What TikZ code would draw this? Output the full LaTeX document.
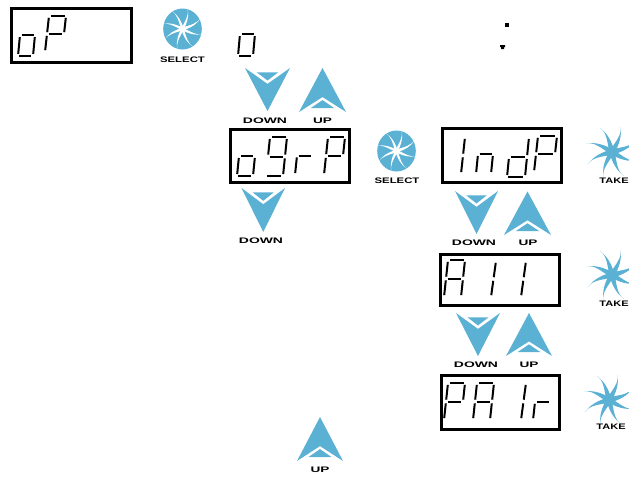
\documentclass[tikz,border=0pt]{standalone}
\usepackage{graphicx}
\usepackage{fontspec}
\setmainfont{Liberation Sans}
\definecolor{btn}{HTML}{5BB1D4}
\tikzset{
  dispbox/.style={draw=black,line width=3pt,fill=white,inner sep=0pt,rectangle},
  lab/.style={inner sep=0pt,font=\fontsize{8}{8}\selectfont\bfseries,text=black},
  seg/.style={draw=black,line width=2pt,line cap=butt},
  arrowfill/.style={fill=btn,draw=none}
}
\newcommand\sga{\draw[seg] (.12,1)--(.92,1);}
\newcommand\sgb{\draw[seg] (1,.95)--(1,.55);}
\newcommand\sgc{\draw[seg] (1,.45)--(1,.05);}
\newcommand\sgd{\draw[seg] (.08,0)--(.88,0);}
\newcommand\sge{\draw[seg] (0,.05)--(0,.45);}
\newcommand\sgf{\draw[seg] (0,.55)--(0,.95);}
\newcommand\sgg{\draw[seg] (.1,.5)--(.9,.5);}
% x, bottom y, width, height, slant, segments
\newcommand\sevenseg[6]{\begin{scope}[shift={(#1,#2)},x={(#3pt,0pt)},y={(#5pt,#4pt)}]
  \foreach \q in {#6}{\csname sg\q\endcsname}\end{scope}}
% name, left x, top y, width, height
\newcommand\dnarrow[5]{\begin{scope}[shift={(#2,#3)},x={(#4pt,0pt)},y={(0pt,-#5pt)}]
  \fill[arrowfill] (0,0)--(.5,.37)--(1,0)--(.5,1)--cycle;
  \fill[arrowfill] (.26,.1)--(.74,.1)--(.5,.29)--cycle;
  \node[inner sep=0pt,minimum size=0pt] (#1) at (.5,.5) {};\end{scope}}
\newcommand\uparrowbtn[5]{\begin{scope}[shift={(#2,#3)},x={(#4pt,0pt)},y={(0pt,-#5pt)}]
  \fill[arrowfill] (.5,0)--(1,1)--(.5,.66)--(0,1)--cycle;
  \fill[arrowfill] (.25,.91)--(.75,.91)--(.5,.73)--cycle;
  \node[inner sep=0pt,minimum size=0pt] (#1) at (.5,.5) {};\end{scope}}
\newcommand\blade[4]{\fill[#4,rotate=#1] (0,#3) .. controls (.4*#2,.6*#3) and (.75*#2,-.04*#2) .. (#2,-.3*#2) .. controls (.8*#2,-.06*#2) and (.4*#2,-#3-.4) .. (0,-#3) -- cycle;}
% name, cx, cy
\newcommand\takebtn[3]{\begin{scope}[shift={(#2,#3)}]
  \foreach \a in {10,55,...,370}{\blade{\a}{25.5}{2.6}{btn}}
  \fill[btn] (0,0) circle (3.4);
  \node[inner sep=0pt,minimum size=0pt] (#1) at (0,0) {};\end{scope}}
\newcommand\selbtn[3]{\begin{scope}[shift={(#2,#3)}]
  \fill[btn] (0,0) circle[x radius=19.3,y radius=20.5];
  \foreach \a in {15,60,...,375}{\blade{\a}{20.5}{1.3}{white}}
  \fill[white] (0,0) circle (1.8);
  \node[inner sep=0pt,minimum size=0pt] (#1) at (0,0) {};\end{scope}}
\begin{document}
\begin{tikzpicture}[x=1pt,y=-1pt]
\useasboundingbox (0,0) rectangle (629,479);
\fill[white] (0,0) rectangle (629,479);
% display boxes
\node[dispbox,minimum width=120pt,minimum height=54pt] (d1) at (71.5,35.5) {};
\node[dispbox,minimum width=119pt,minimum height=53pt] (d2) at (290,156) {};
\node[dispbox,minimum width=119pt,minimum height=54pt] (d3) at (502,155.5) {};
\node[dispbox,minimum width=119pt,minimum height=51pt] (d4) at (500,280) {};
\node[dispbox,minimum width=118pt,minimum height=54pt] (d5) at (500.5,402.5) {};
% display digits
\sevenseg{18}{56}{15}{42}{4}{c,d,e,g}
\sevenseg{45}{52}{17}{36}{4}{a,b,e,f,g}
\sevenseg{238}{56}{15}{44}{4}{c,d,e,g}
\sevenseg{237}{176}{16}{40}{4}{c,d,e,g}
\sevenseg{266}{176}{17}{39}{4}{a,b,c,d,f,g}
\sevenseg{295}{175}{16}{39}{4}{e,g}
\sevenseg{324}{175}{17}{38}{4}{a,b,e,f,g}
\sevenseg{461}{174}{14}{37}{4}{e,f}
\sevenseg{476}{174}{15}{40}{4}{c,e,g}
\sevenseg{507}{177}{18}{40}{4}{b,c,d,e,g}
\sevenseg{534}{172}{19}{36}{4}{a,b,e,f,g}
\sevenseg{444}{297}{17}{37}{4}{a,b,c,e,f,g}
\sevenseg{491}{297}{14}{36}{5}{e,f}
\sevenseg{521}{297}{14}{36}{5}{e,f}
\sevenseg{444}{420}{17}{37}{4}{a,b,e,f,g}
\sevenseg{473}{420}{17}{37}{4}{a,b,c,e,f,g}
\sevenseg{521}{420}{14}{37}{5}{e,f}
\sevenseg{533}{420}{15}{36}{4}{e,g}
% dots
\fill[black] (505,23) rectangle (509,27);
\fill[black] (500,45) rectangle (505,47) (501,47) rectangle (504,49);
% arrows
\dnarrow{dn1}{245}{68}{45}{43}
\uparrowbtn{up1}{299}{68}{47}{44}
\dnarrow{dn2}{241.5}{188}{43.5}{44}
\dnarrow{dn3}{455}{191}{43}{43}
\uparrowbtn{up3}{504}{191.5}{47}{43.5}
\dnarrow{dn4}{456}{313}{44}{43}
\uparrowbtn{up4}{506}{313}{46}{43}
\uparrowbtn{up5}{297}{417}{46}{44}
% buttons
\selbtn{s1}{182.5}{29}
\selbtn{s2}{396.5}{151}
\takebtn{t1}{612}{152}
\takebtn{t2}{612}{275}
\takebtn{t3}{609}{400}
% labels
\node[lab] (l1) at (182.5,59.5) {\scalebox{1.42}[1]{SELECT}};
\node[lab] (l2) at (397,181) {\scalebox{1.42}[1]{SELECT}};
\node[lab] (l3) at (265,120.5) {\scalebox{1.74}[1]{DOWN}};
\node[lab] (l4) at (322.5,120.5) {\scalebox{1.7}[1]{UP}};
\node[lab] (l5) at (261,241) {\scalebox{1.74}[1]{DOWN}};
\node[lab] (l6) at (474,243) {\scalebox{1.74}[1]{DOWN}};
\node[lab] (l7) at (528,243) {\scalebox{1.7}[1]{UP}};
\node[lab] (l8) at (476,365) {\scalebox{1.74}[1]{DOWN}};
\node[lab] (l9) at (529,365) {\scalebox{1.7}[1]{UP}};
\node[lab] (l10) at (320,470) {\scalebox{1.7}[1]{UP}};
\node[lab] (l11) at (614,181) {\scalebox{1.38}[1]{TAKE}};
\node[lab] (l12) at (614,303.5) {\scalebox{1.38}[1]{TAKE}};
\node[lab] (l13) at (611,427) {\scalebox{1.38}[1]{TAKE}};
\end{tikzpicture}
\end{document}
